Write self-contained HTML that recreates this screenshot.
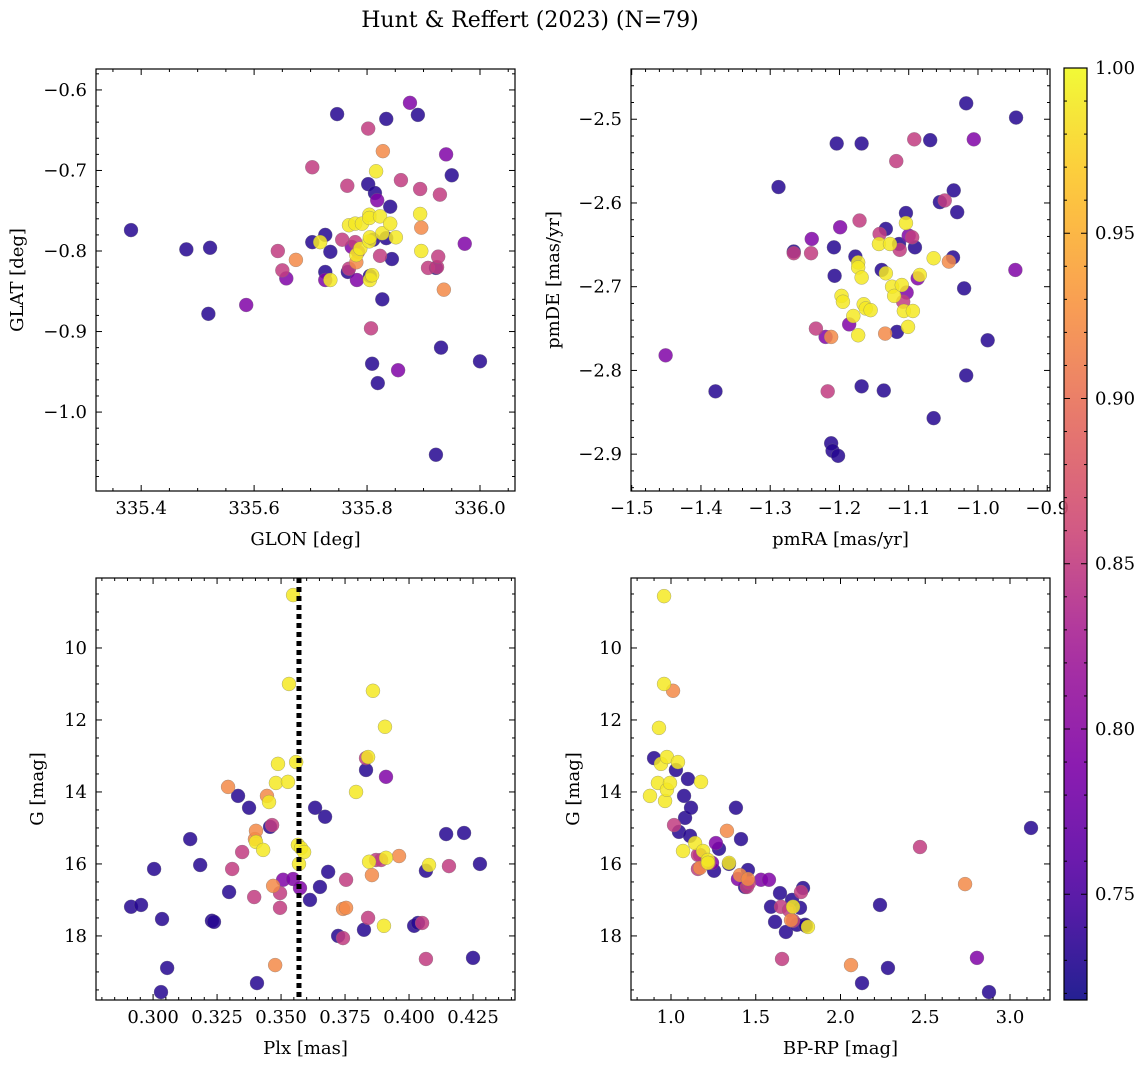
<!DOCTYPE html>
<html><head><meta charset="utf-8">
<style>
html,body{margin:0;padding:0;background:#fff;}
svg{display:block;font-family:"DejaVu Serif","Liberation Serif",serif;}
</style></head>
<body>
<svg id="fig" width="1148" height="1068" viewBox="0 0 1148 1068" xmlns="http://www.w3.org/2000/svg">
<text x="530" y="27" font-size="22" text-anchor="middle">Hunt &amp; Reffert (2023) (N=79)</text>
</svg>
<script>
// ---------- data ----------
const glon=[335.382,335.480,335.522,335.519,335.586,335.703,335.642,335.650,335.657,335.674,335.703,335.726,335.726,335.726,335.735,335.717,335.735,335.747,335.756,335.765,335.766,335.768,335.768,335.773,335.779,335.779,335.781,335.781,335.784,335.782,335.788,335.791,335.802,335.802,335.804,335.804,335.805,335.805,335.807,335.804,335.805,335.809,335.809,335.811,335.814,335.816,335.818,335.819,335.823,335.823,335.827,335.828,335.827,335.834,335.834,335.841,335.841,335.844,335.851,335.855,335.860,335.876,335.890,335.894,335.894,335.896,335.896,335.908,335.924,335.929,335.926,335.931,335.936,335.940,335.950,335.922,335.973,336.000,335.922];
const glat=[-0.774,-0.798,-0.796,-0.878,-0.867,-0.696,-0.800,-0.824,-0.834,-0.811,-0.789,-0.780,-0.826,-0.836,-0.801,-0.789,-0.836,-0.630,-0.786,-0.719,-0.826,-0.768,-0.822,-0.795,-0.766,-0.789,-0.805,-0.814,-0.801,-0.836,-0.797,-0.766,-0.648,-0.717,-0.755,-0.788,-0.831,-0.836,-0.896,-0.759,-0.783,-0.940,-0.830,-0.786,-0.728,-0.701,-0.737,-0.964,-0.757,-0.806,-0.860,-0.676,-0.778,-0.636,-0.784,-0.766,-0.745,-0.810,-0.783,-0.948,-0.712,-0.616,-0.631,-0.723,-0.754,-0.771,-0.800,-0.821,-0.820,-0.730,-0.807,-0.920,-0.848,-0.680,-0.706,-1.053,-0.791,-0.937,-0.821];
const probTL=[0.73,0.73,0.73,0.73,0.79,0.85,0.85,0.85,0.79,0.92,0.73,0.73,0.73,0.79,0.73,0.99,0.99,0.73,0.85,0.85,0.73,0.99,0.85,0.79,0.99,0.85,0.99,0.92,0.85,0.79,0.99,0.99,0.85,0.73,0.99,0.99,0.73,0.99,0.85,0.99,0.99,0.73,0.99,0.73,0.73,0.99,0.79,0.73,0.99,0.85,0.73,0.92,0.99,0.73,0.73,0.99,0.73,0.73,0.99,0.79,0.85,0.79,0.73,0.85,0.99,0.92,0.99,0.85,0.85,0.85,0.85,0.73,0.92,0.79,0.73,0.73,0.79,0.73,0.73];

const pmra=[-1.451,-1.379,-1.288,-1.266,-1.266,-1.240,-1.241,-1.234,-1.220,-1.217,-1.212,-1.208,-1.207,-1.204,-1.212,-1.210,-1.202,-1.199,-1.197,-1.195,-1.186,-1.180,-1.177,-1.173,-1.173,-1.173,-1.171,-1.168,-1.168,-1.168,-1.165,-1.162,-1.155,-1.143,-1.142,-1.139,-1.136,-1.134,-1.133,-1.133,-1.127,-1.124,-1.121,-1.118,-1.117,-1.114,-1.113,-1.110,-1.108,-1.107,-1.104,-1.104,-1.103,-1.101,-1.100,-1.095,-1.094,-1.092,-1.091,-1.087,-1.084,-1.069,-1.064,-1.064,-1.055,-1.048,-1.042,-1.036,-1.035,-1.030,-1.020,-1.017,-1.017,-1.006,-0.986,-0.945,-0.946];
const pmde=[-2.782,-2.825,-2.581,-2.658,-2.660,-2.643,-2.660,-2.750,-2.760,-2.825,-2.760,-2.653,-2.687,-2.529,-2.887,-2.896,-2.902,-2.629,-2.711,-2.718,-2.745,-2.735,-2.664,-2.671,-2.677,-2.758,-2.621,-2.819,-2.529,-2.689,-2.721,-2.726,-2.728,-2.649,-2.637,-2.680,-2.824,-2.756,-2.631,-2.684,-2.649,-2.700,-2.711,-2.550,-2.754,-2.649,-2.656,-2.698,-2.718,-2.729,-2.624,-2.612,-2.707,-2.748,-2.639,-2.641,-2.729,-2.524,-2.653,-2.690,-2.686,-2.525,-2.666,-2.857,-2.599,-2.597,-2.670,-2.665,-2.585,-2.611,-2.702,-2.806,-2.481,-2.524,-2.764,-2.498,-2.680];
const probTR=[0.79,0.73,0.73,0.73,0.85,0.79,0.85,0.85,0.79,0.85,0.92,0.73,0.73,0.73,0.73,0.73,0.73,0.79,0.99,0.99,0.79,0.99,0.73,0.99,0.99,0.99,0.85,0.73,0.73,0.99,0.99,0.99,0.99,0.99,0.85,0.73,0.73,0.92,0.73,0.99,0.99,0.99,0.99,0.85,0.73,0.73,0.85,0.99,0.85,0.99,0.99,0.73,0.79,0.99,0.79,0.85,0.99,0.85,0.73,0.79,0.99,0.73,0.99,0.73,0.73,0.85,0.92,0.73,0.73,0.73,0.73,0.73,0.73,0.79,0.73,0.73,0.79];

const plx=[0.2914,0.2953,0.3004,0.3031,0.3035,0.3055,0.3145,0.3184,0.3230,0.3238,0.3293,0.3309,0.3297,0.3332,0.3348,0.3375,0.3395,0.3398,0.3402,0.3402,0.3430,0.3406,0.3445,0.3453,0.3457,0.3465,0.3469,0.3477,0.3480,0.3488,0.3496,0.3496,0.3508,0.3527,0.3531,0.3547,0.3547,0.3559,0.3566,0.3574,0.3570,0.3578,0.3590,0.3613,0.3633,0.3652,0.3672,0.3684,0.3723,0.3742,0.3742,0.3754,0.3754,0.3793,0.3824,0.3832,0.3832,0.3840,0.3840,0.3844,0.3855,0.3859,0.3871,0.3891,0.3906,0.3910,0.3902,0.3910,0.3961,0.4020,0.4035,0.4051,0.4066,0.4066,0.4078,0.4145,0.4156,0.4215,0.4250,0.4277];
const gPlx=[17.19,17.14,16.14,19.56,17.53,18.89,15.31,16.03,17.58,17.61,13.86,16.14,16.78,14.11,15.67,14.44,16.92,15.31,15.08,15.39,15.61,19.31,14.11,14.28,14.97,14.92,16.61,18.81,13.75,13.22,16.81,17.22,16.44,13.72,11.00,8.53,16.42,13.17,15.47,16.67,16.00,15.56,15.67,17.00,14.44,16.64,14.69,16.22,18.00,18.06,17.25,16.44,17.22,14.00,17.83,13.39,13.06,13.03,17.50,15.94,16.31,11.19,15.89,15.89,12.19,13.58,17.72,15.83,15.78,17.72,17.64,17.64,16.19,18.64,16.03,15.17,16.06,15.14,18.61,16.00];
const probBL=[0.73,0.73,0.73,0.73,0.73,0.73,0.73,0.73,0.73,0.73,0.92,0.85,0.73,0.73,0.85,0.73,0.85,0.92,0.92,0.99,0.99,0.73,0.92,0.99,0.73,0.85,0.92,0.92,0.99,0.99,0.85,0.85,0.79,0.99,0.99,0.99,0.79,0.99,0.99,0.79,0.99,0.99,0.99,0.73,0.73,0.73,0.73,0.73,0.73,0.85,0.92,0.85,0.92,0.99,0.73,0.73,0.85,0.99,0.85,0.99,0.92,0.99,0.85,0.85,0.99,0.79,0.99,0.99,0.92,0.73,0.73,0.85,0.73,0.85,0.99,0.73,0.85,0.73,0.73,0.73];
const plxRef=[0.357];

const bprp=[0.900,0.876,0.929,0.923,0.941,0.959,0.959,0.965,0.976,0.976,0.994,1.012,1.018,1.029,1.041,1.047,1.071,1.077,1.083,1.100,1.118,1.112,1.142,1.159,1.159,1.171,1.171,1.177,1.189,1.201,1.218,1.218,1.224,1.242,1.254,1.283,1.265,1.330,1.342,1.342,1.395,1.407,1.383,1.413,1.437,1.448,1.454,1.454,1.460,1.531,1.578,1.590,1.614,1.643,1.649,1.655,1.678,1.696,1.708,1.714,1.720,1.720,1.743,1.761,1.767,1.779,1.791,1.796,1.808,2.062,2.127,2.233,2.280,2.469,2.735,2.805,2.876,3.124];
const gCmd=[13.06,14.11,12.22,13.75,13.22,8.56,11.00,14.25,13.03,13.94,13.75,11.19,14.92,13.39,13.17,15.11,15.64,14.11,14.72,13.64,14.44,15.22,15.42,15.75,16.14,15.75,16.11,13.72,15.64,15.94,15.89,15.97,15.97,15.97,16.19,15.58,15.42,15.08,16.00,15.97,16.42,16.31,14.44,15.31,16.64,16.64,16.17,16.42,16.53,16.44,16.44,17.19,17.61,16.81,17.19,18.64,17.89,17.28,17.56,17.00,17.19,17.58,17.69,17.22,16.78,16.67,17.69,17.72,17.75,18.81,19.31,17.14,18.89,15.53,16.56,18.61,19.56,15.00];
const probBR=[0.73,0.99,0.99,0.99,0.99,0.99,0.99,0.99,0.99,0.99,0.99,0.92,0.85,0.73,0.99,0.73,0.99,0.73,0.73,0.73,0.73,0.73,0.99,0.85,0.85,0.79,0.92,0.99,0.99,0.73,0.99,0.99,0.85,0.79,0.73,0.73,0.79,0.92,0.73,0.99,0.79,0.92,0.73,0.73,0.73,0.85,0.73,0.92,0.85,0.79,0.79,0.73,0.73,0.73,0.85,0.85,0.73,0.85,0.92,0.73,0.99,0.85,0.73,0.73,0.85,0.73,0.73,0.73,0.99,0.92,0.73,0.73,0.73,0.85,0.92,0.79,0.73,0.73];

const cbTicks=[0.75,0.80,0.85,0.90,0.95,1.00];
const cMin=0.718, cMax=1.0;

// ---------- helpers ----------
const NS="http://www.w3.org/2000/svg";
const svg=document.getElementById('fig');
function mk(tag,attrs,parent){const e=document.createElementNS(NS,tag);for(const k in attrs)e.setAttribute(k,attrs[k]);(parent||svg).appendChild(e);return e;}
const plasma=[[0,13,8,135],[0.13,84,2,163],[0.25,126,3,168],[0.38,163,29,151],[0.5,204,71,120],[0.63,230,108,92],[0.75,248,149,64],[0.88,253,196,39],[1,240,249,33]];
function cmap(v){let t=(v-cMin)/(cMax-cMin);t=Math.max(0,Math.min(1,t));for(let i=1;i<plasma.length;i++){if(t<=plasma[i][0]){const a=plasma[i-1],b=plasma[i];const f=(t-a[0])/(b[0]-a[0]);return `rgb(${Math.round(a[1]+f*(b[1]-a[1]))},${Math.round(a[2]+f*(b[2]-a[2]))},${Math.round(a[3]+f*(b[3]-a[3]))})`;}}return 'rgb(240,249,33)';}
function lin(d0,d1,r0,r1){return v=>r0+(v-d0)/(d1-d0)*(r1-r0);}
function fmt(v,dec){return (v<0?'\u2212':'')+Math.abs(v).toFixed(dec);}
const FS=18;

function panel(o){
  const g=mk('g',{});
  
  
  const X=lin(o.xd[0],o.xd[1],o.x0,o.x1), Y=lin(o.yd[0],o.yd[1],o.y0,o.y1);
  const pg=mk('g',{},g);
  
  
  const clipId=o.name+'-clip';
  const cp=mk('clipPath',{id:clipId},g);mk('rect',{x:o.x0,y:o.y0,width:o.x1-o.x0,height:o.y1-o.y0},cp);
  pg.setAttribute('clip-path',`url(#${clipId})`);
  const idx=o.xs.map((_,i)=>i).sort((a,b)=>o.cs[a]-o.cs[b]);
  idx.forEach(i=>{
    const c=mk('circle',{cx:X(o.xs[i]),cy:Y(o.ys[i]),r:7,fill:cmap(o.cs[i]),'fill-opacity':0.85,stroke:'#777','stroke-width':0.5,'stroke-opacity':0.6},pg);
    
    
  });
  if(o.extra)o.extra(g,X,Y);
  const fr=mk('rect',{x:o.x0,y:o.y0,width:o.x1-o.x0,height:o.y1-o.y0,fill:'none',stroke:'#000','stroke-width':1.2},g);
  
  
  const eps=1e-9;
  for(let v=Math.ceil(Math.min(...o.xd)/o.xm-eps)*o.xm;v<=Math.max(...o.xd)+eps;v+=o.xm){
    const px=X(v);const maj=Math.abs(v/o.xM-Math.round(v/o.xM))<1e-6;const L=maj?6:3;
    mk('line',{x1:px,x2:px,y1:o.y1,y2:o.y1-L,stroke:'#000','stroke-width':1},g);
    mk('line',{x1:px,x2:px,y1:o.y0,y2:o.y0+L,stroke:'#000','stroke-width':1},g);
    if(maj){const t=mk('text',{x:px,y:o.y1+23,'font-size':FS,'text-anchor':'middle'},g);t.textContent=fmt(Math.round(v/o.xM)*o.xM,o.xdec);
      }
  }
  const ylo=Math.min(...o.yd),yhi=Math.max(...o.yd);
  for(let v=Math.ceil(ylo/o.ym-eps)*o.ym;v<=yhi+eps;v+=o.ym){
    const py=Y(v);const maj=Math.abs(v/o.yM-Math.round(v/o.yM))<1e-6;const L=maj?6:3;
    mk('line',{x1:o.x0,x2:o.x0+L,y1:py,y2:py,stroke:'#000','stroke-width':1},g);
    mk('line',{x1:o.x1,x2:o.x1-L,y1:py,y2:py,stroke:'#000','stroke-width':1},g);
    if(maj){const t=mk('text',{x:o.x0-9,y:py+6,'font-size':FS,'text-anchor':'end'},g);t.textContent=fmt(Math.round(v/o.yM)*o.yM,o.ydec);
      }
  }
  const xl=mk('text',{x:(o.x0+o.x1)/2,y:o.y1+54,'font-size':FS,'text-anchor':'middle'},g);xl.textContent=o.xlabel;
  
  const yx=o.ylx, yy=(o.y0+o.y1)/2;
  const yl=mk('text',{x:yx,y:yy,'font-size':FS,'text-anchor':'middle',transform:`rotate(-90 ${yx} ${yy})`},g);yl.textContent=o.ylabel;
  
}

panel({name:'glon-glat-panel',x0:96,x1:515,y0:69,y1:491,xd:[335.320,336.062],yd:[-0.574,-1.098],xs:glon,ys:glat,cs:probTL,xM:0.2,xm:0.05,yM:0.1,ym:0.02,xdec:1,ydec:1,xlabel:'GLON [deg]',ylabel:'GLAT [deg]',ylx:23});
panel({name:'proper-motion-panel',x0:631,x1:1050,y0:69,y1:491,xd:[-1.501,-0.896],yd:[-2.440,-2.944],xs:pmra,ys:pmde,cs:probTR,xM:0.1,xm:0.02,yM:0.1,ym:0.02,xdec:1,ydec:1,xlabel:'pmRA [mas/yr]',ylabel:'pmDE [mas/yr]',ylx:559});
panel({name:'parallax-panel',x0:96,x1:515,y0:578,y1:1000,xd:[0.2777,0.4414],yd:[8.056,19.78],xs:plx,ys:gPlx,cs:probBL,xM:0.025,xm:0.005,yM:2,ym:0.5,xdec:3,ydec:0,xlabel:'Plx [mas]',ylabel:'G [mag]',ylx:43,
  extra:(g,X,Y)=>{plxRef.forEach(v=>{const l=mk('line',{x1:X(v),x2:X(v),y1:578,y2:1000,stroke:'#000','stroke-width':5,'stroke-dasharray':'5,4'},g);
    });}});
panel({name:'cmd-panel',x0:631,x1:1050,y0:578,y1:1000,xd:[0.764,3.236],yd:[8.056,19.78],xs:bprp,ys:gCmd,cs:probBR,xM:0.5,xm:0.1,yM:2,ym:0.5,xdec:1,ydec:0,xlabel:'BP-RP [mag]',ylabel:'G [mag]',ylx:579});

(function(){
  const cx0=1064,cx1=1087,cy0=68,cy1=1000;
  const g=mk('g',{});
  
  
  const defs=mk('defs',{},g);
  const lg=mk('linearGradient',{id:'cbgrad',x1:0,y1:1,x2:0,y2:0},defs);
  for(let i=0;i<=20;i++){const t=i/20;mk('stop',{offset:t,'stop-color':cmap(cMin+t*(cMax-cMin))},lg);}
  mk('rect',{x:cx0,y:cy0,width:cx1-cx0,height:cy1-cy0,fill:'url(#cbgrad)','fill-opacity':0.9,stroke:'#000','stroke-width':1.2},g);
  const Y=lin(cMin,cMax,cy1,cy0);
  for(let v=0.72;v<=1.0001;v+=0.01){const py=Y(v);const maj=Math.abs(v*20-Math.round(v*20))<1e-6;const L=maj?6:3;
    mk('line',{x1:cx0,x2:cx0+L,y1:py,y2:py,stroke:'#000'},g);mk('line',{x1:cx1,x2:cx1-L,y1:py,y2:py,stroke:'#000'},g);}
  cbTicks.forEach(v=>{const t=mk('text',{x:cx1+8,y:Y(v)+6,'font-size':FS},g);t.textContent=v.toFixed(2);
    });
})();
</script>
</body></html>
